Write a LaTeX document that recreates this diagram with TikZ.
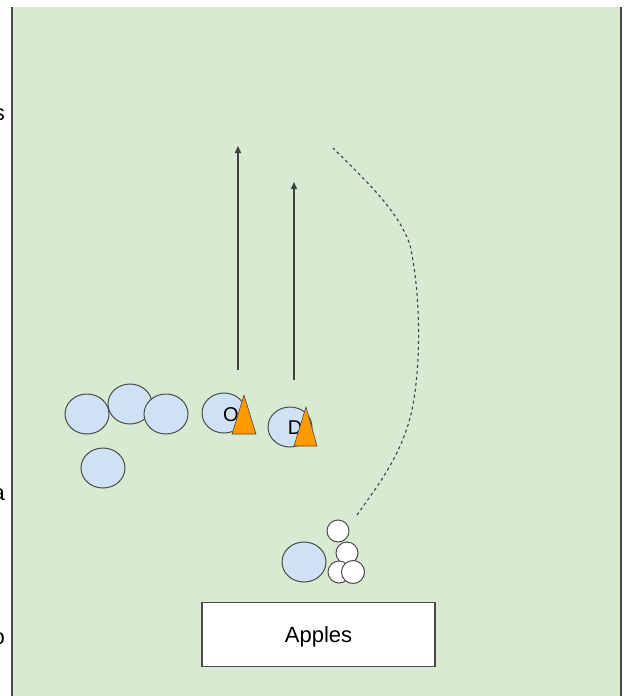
\documentclass[tikz,border=0pt]{standalone}
\usepackage{fontspec}
\setmainfont{Liberation Sans}
\usetikzlibrary{shapes.geometric,arrows.meta}
\definecolor{field}{HTML}{D9EAD3}
\definecolor{edge}{HTML}{4A4A4A}
\definecolor{player}{HTML}{CFE2F3}
\definecolor{cone}{HTML}{FF9900}
\tikzset{
  player/.style={ellipse,draw=edge,fill=player,line width=1pt,inner sep=0pt,
    minimum width=44pt,minimum height=40pt},
  apple/.style={circle,draw=edge,fill=white,line width=1pt,inner sep=0pt,minimum size=22pt},
  conemark/.style={fill=cone,draw=edge,line width=0.6pt},
  tag/.style={font=\fontsize{20}{22}\selectfont,inner sep=0pt},
  run/.style={draw=black!75,line width=1.4pt,-{Triangle[length=7pt,width=6pt]}},
  route/.style={draw=black!75,line width=1.1pt,dash pattern=on 3pt off 3pt},
  cuttext/.style={font=\fontsize{22}{24}\selectfont,anchor=east,inner sep=0pt}
}
\begin{document}
\begin{tikzpicture}[x=1pt,y=-1pt]
\useasboundingbox (0,0) rectangle (631,696);
% playing field
\fill[field] (12,7) rectangle (621,700);
\draw[edge,line width=2pt] (12,7) -- (12,700);
\draw[edge,line width=2pt] (621,7) -- (621,700);
% text running off the left edge
\node[cuttext] (ls) at (5,115) {s};
\node[cuttext] (la) at (5,495) {a};
\node[cuttext] (lo) at (5,639) {o};
% waiting line
\node[player] (p1) at (87,414) {};
\node[player] (p2) at (130,404) {};
\node[player] (p3) at (166,414) {};
\node[player] (p4) at (103,468) {};
% attacker and defender with their cones
\node[player] (po) at (224,413) {};
\node[tag] (lo2) at (231,415) {O};
\draw[conemark] (244,395) -- (256,434) -- (232,434) -- cycle;
\node[player] (pd) at (290,427) {};
\node[tag] (ld2) at (295,428) {D};
\draw[conemark] (306,407) -- (317,446) -- (294,446) -- cycle;
% runs
\coordinate (oa) at (238,370);
\coordinate (ob) at (238,146);
\coordinate (da) at (294,380);
\coordinate (db) at (294,182);
\draw[run] (oa) -- (ob);
\draw[run] (da) -- (db);
% feeder with apples
\node[player] (pf) at (304,562) {};
\node[apple] (a1) at (338,531) {};
\node[apple] (a2) at (347,553) {};
\node[apple] (a3) at (339,572) {};
\node[apple,minimum size=23pt] (a4) at (353,572) {};
% throw route
\coordinate (ts) at (357,515);
\coordinate (te) at (333,148);
\draw[route] (ts) .. controls (378,485) and (402,455) .. (412,410)
  .. controls (422,360) and (420,290) .. (410,245)
  .. controls (398,210) and (365,180) .. (te);
% apples box
\node[draw=edge,fill=white,line width=1.8pt,minimum width=233pt,minimum height=64pt] (box) at (318.5,634.5) {};
\node[font=\fontsize{22}{24}\selectfont,inner sep=0pt] (boxtext) at (318.5,637) {Apples};
\end{tikzpicture}
\end{document}
